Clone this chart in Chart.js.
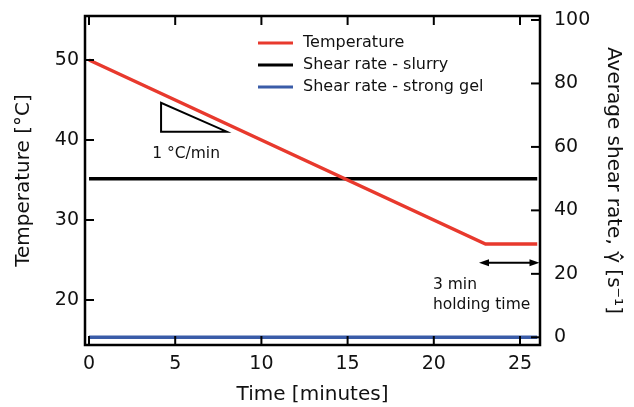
<!DOCTYPE html>
<html><head><meta charset="utf-8">
<script src="https://cdn.jsdelivr.net/npm/chart.js@4.4.1/dist/chart.umd.min.js"></script>
<style>html,body{margin:0;padding:0;background:#fff}</style>
</head><body>
<canvas id="c" width="634" height="407"></canvas>
<script>
// ---- data ----
const timeTemp = [0, 23, 26];
const temperature = [50, 27, 27];
const timeShear = [0, 26];
const shearSlurry = [50, 50];
const shearGel = [0, 0];
const xTicks = [0, 5, 10, 15, 20, 25];
const leftTicks = [20, 30, 40, 50];
const rightTicks = [0, 20, 40, 60, 80, 100];
const seriesLabels = ['Temperature', 'Shear rate - slurry', 'Shear rate - strong gel'];
const seriesColors = ['#e8392d', '#000000', '#3a5ca8'];
// annotations in data units (time, temperature)
const slopeTriangle = [[4.18, 44.66], [4.18, 41.04], [7.99, 41.04]];
const slopeLabel = {x: 5.63, y: 37.7, text: '1 °C/min'};
const holdArrow = {x0: 22.62, x1: 26.13, y: 24.66};
const holdLabelX = 19.95;
const holdLabelY = [21.41, 18.91];
const holdLabel = ['3 min', 'holding time'];

const FONT = "'DejaVu Sans', sans-serif";
Chart.defaults.font.family = FONT;
Chart.defaults.color = '#111';

const framePlugin = {
  id: 'frame',
  afterDatasetsDraw(chart) {
    const {ctx, chartArea: a, scales: {x, y, y2}} = chart;
    const seg = (x1, y1, x2, y2_) => { ctx.beginPath(); ctx.moveTo(x1, y1); ctx.lineTo(x2, y2_); ctx.stroke(); };
    ctx.save();
    ctx.strokeStyle = '#000';
    // slope triangle
    ctx.lineWidth = 2;
    ctx.beginPath();
    slopeTriangle.forEach((p, i) => {
      const px = x.getPixelForValue(p[0]), py = y.getPixelForValue(p[1]);
      i ? ctx.lineTo(px, py) : ctx.moveTo(px, py);
    });
    ctx.closePath(); ctx.stroke();
    ctx.fillStyle = '#111';
    ctx.font = '15.5px ' + FONT;
    ctx.textAlign = 'center'; ctx.textBaseline = 'alphabetic';
    ctx.fillText(slopeLabel.text, x.getPixelForValue(slopeLabel.x), y.getPixelForValue(slopeLabel.y));
    // holding arrow
    const ax0 = x.getPixelForValue(holdArrow.x0), ax1 = x.getPixelForValue(holdArrow.x1), ay = y.getPixelForValue(holdArrow.y);
    ctx.lineWidth = 2;
    seg(ax0 + 6, ay, ax1 - 6, ay);
    ctx.fillStyle = '#000';
    ctx.beginPath(); ctx.moveTo(ax0, ay); ctx.lineTo(ax0 + 10, ay - 3.5); ctx.lineTo(ax0 + 10, ay + 3.5); ctx.closePath(); ctx.fill();
    ctx.beginPath(); ctx.moveTo(ax1, ay); ctx.lineTo(ax1 - 10, ay - 3.5); ctx.lineTo(ax1 - 10, ay + 3.5); ctx.closePath(); ctx.fill();
    ctx.fillStyle = '#111';
    ctx.textAlign = 'left';
    holdLabel.forEach((t, i) => ctx.fillText(t, x.getPixelForValue(holdLabelX), y.getPixelForValue(holdLabelY[i])));
    // frame
    ctx.lineWidth = 2.5;
    ctx.strokeRect(a.left, a.top, a.right - a.left, a.bottom - a.top);
    ctx.lineWidth = 2;
    xTicks.forEach(v => { const px = x.getPixelForValue(v); seg(px, a.bottom, px, a.bottom - 9); seg(px, a.top, px, a.top + 9); });
    leftTicks.forEach(v => { const py = y.getPixelForValue(v); seg(a.left, py, a.left + 9, py); });
    rightTicks.forEach(v => { const py = y2.getPixelForValue(v); seg(a.right, py, a.right - 9, py); });
    // legend
    const ds = chart.data.datasets;
    ctx.font = '16px ' + FONT;
    ctx.textBaseline = 'middle'; ctx.textAlign = 'left';
    ds.forEach((d, i) => {
      const ly = 43 + i * 22;
      ctx.strokeStyle = d.borderColor; ctx.lineWidth = 3;
      seg(258, ly, 293, ly);
      ctx.fillStyle = '#111';
      ctx.fillText(d.label, 303, ly);
    });
    ctx.restore();
  }
};

const toPts = (xs, ys) => xs.map((t, i) => ({x: t, y: ys[i]}));
const noPad = s => { s.paddingTop = 0; s.paddingBottom = 0; s.paddingLeft = 0; s.paddingRight = 0; };
const gridOff = {display: false, drawTicks: false};

new Chart(document.getElementById('c'), {
  type: 'line',
  data: {
    datasets: [
      {label: seriesLabels[0], data: toPts(timeTemp, temperature), yAxisID: 'y', borderColor: seriesColors[0], borderWidth: 3.5, pointRadius: 0, tension: 0},
      {label: seriesLabels[1], data: toPts(timeShear, shearSlurry), yAxisID: 'y2', borderColor: seriesColors[1], borderWidth: 3.5, pointRadius: 0, tension: 0},
      {label: seriesLabels[2], data: toPts(timeShear, shearGel), yAxisID: 'y2', borderColor: seriesColors[2], borderWidth: 3.5, pointRadius: 0, tension: 0}
    ]
  },
  options: {
    responsive: false,
    animation: false,
    layout: {padding: {top: 16, left: 0, right: 0, bottom: 0}},
    plugins: {legend: {display: false}, tooltip: {enabled: false}},
    scales: {
      x: {
        type: 'linear', position: 'bottom', min: -0.232, max: 26.16,
        afterBuildTicks: s => { s.ticks = xTicks.map(v => ({value: v})); },
        afterFit: s => { s.height = 62; noPad(s); },
        grid: gridOff, border: {display: false},
        ticks: {font: {size: 19}, padding: 8, maxRotation: 0, autoSkip: false, color: '#111'},
        title: {display: true, text: 'Time [minutes]', font: {size: 20, lineHeight: 1.2}, color: '#111', padding: {top: 0, bottom: 0}}
      },
      y: {
        type: 'linear', position: 'left', min: 14.375, max: 55.5,
        afterBuildTicks: s => { s.ticks = leftTicks.map(v => ({value: v})); },
        afterFit: s => { s.width = 85; noPad(s); },
        grid: gridOff, border: {display: false},
        ticks: {font: {size: 19}, padding: 6, color: '#111'},
        title: {display: true, text: 'Temperature [°C]', font: {size: 20, lineHeight: 1.2}, color: '#111', padding: {top: 12, bottom: 0}}
      },
      y2: {
        type: 'linear', position: 'right', min: -2.43, max: 101.26,
        afterBuildTicks: s => { s.ticks = rightTicks.map(v => ({value: v})); },
        afterFit: s => { s.width = 94; noPad(s); },
        grid: gridOff, border: {display: false},
        ticks: {font: {size: 19}, padding: 14, color: '#111'},
        title: {display: true, text: 'Average shear rate, γ̂̇ [s⁻¹]', font: {size: 20, lineHeight: 1.2}, color: '#111', padding: {top: 9, bottom: 0}}
      }
    }
  },
  plugins: [framePlugin]
});
</script>
</body></html>
